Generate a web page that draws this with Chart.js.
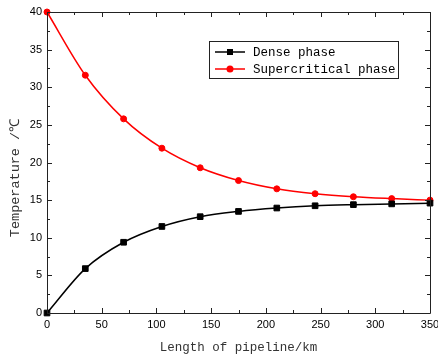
<!DOCTYPE html>
<html>
<head>
<meta charset="utf-8">
<script src="https://cdn.jsdelivr.net/npm/chart.js@4/dist/chart.umd.min.js"></script>
<style>
  html, body { margin: 0; padding: 0; background: #fff; }
  #wrap { width: 438px; height: 360px; position: relative; }
</style>
</head>
<body>
<div id="wrap"><canvas id="c" width="438" height="360"></canvas></div>
<script>
// Pipeline length (km) at each sampling station
const lengthKm = [0, 35, 70, 105, 140, 175, 210, 245, 280, 315, 350];
// Temperature (°C) along the pipeline for each transport phase
const densePhase = [0, 5.9, 9.4, 11.5, 12.8, 13.5, 13.95, 14.25, 14.4, 14.5, 14.6];
const supercriticalPhase = [40, 31.6, 25.8, 21.9, 19.3, 17.6, 16.5, 15.85, 15.45, 15.2, 15.0];
const seriesNames = ['Dense phase', 'Supercritical phase'];
const xTicks = [0, 50, 100, 150, 200, 250, 300, 350];
const yTicks = [0, 5, 10, 15, 20, 25, 30, 35, 40];
const yTitle = 'Temperature /℃';

const serif = '"Liberation Mono", "DejaVu Sans Mono", monospace';
const sans = '"Liberation Sans", Arial, sans-serif';

// Box frame with inward major/minor ticks on all four sides
const framePlugin = {
  id: 'frame',
  afterDatasetsDraw(chart) {
    const { ctx, chartArea: a, scales: { x, y } } = chart;
    ctx.save();
    ctx.strokeStyle = '#222';
    ctx.lineWidth = 1;
    ctx.beginPath();
    ctx.rect(Math.round(a.left) + 0.5, Math.round(a.top) + 0.5,
             Math.round(a.right - a.left), Math.round(a.bottom - a.top));
    ctx.stroke();
    ctx.beginPath();
    for (let v = 0; v <= 350; v += 25) {
      const px = Math.round(x.getPixelForValue(v)) + 0.5;
      const len = v % 50 === 0 ? 5 : 3;
      ctx.moveTo(px, a.bottom); ctx.lineTo(px, a.bottom - len);
      ctx.moveTo(px, a.top); ctx.lineTo(px, a.top + len);
    }
    for (let v = 0; v <= 40; v += 2.5) {
      const py = Math.round(y.getPixelForValue(v)) + 0.5;
      const len = v % 5 === 0 ? 5 : 3;
      ctx.moveTo(a.left, py); ctx.lineTo(a.left + len, py);
      ctx.moveTo(a.right, py); ctx.lineTo(a.right - len, py);
    }
    ctx.stroke();
    ctx.restore();
  }
};

// Rotated y-axis title beside the tick labels
const yTitlePlugin = {
  id: 'yTitle',
  afterDraw(chart) {
    const { ctx } = chart;
    ctx.save();
    ctx.translate(15, 178);
    ctx.rotate(-Math.PI / 2);
    ctx.fillStyle = '#333';
    ctx.font = '13.5px ' + serif;
    ctx.textAlign = 'center';
    ctx.textBaseline = 'middle';
    ctx.fillText(yTitle, 0, 0);
    ctx.restore();
  }
};

// Boxed legend inside the plot area
const boxLegendPlugin = {
  id: 'boxLegend',
  afterDraw(chart) {
    const { ctx } = chart;
    const bx = 209, by = 41, bw = 189, bh = 37;
    ctx.save();
    ctx.fillStyle = '#fff';
    ctx.fillRect(bx, by, bw, bh);
    ctx.strokeStyle = '#222';
    ctx.lineWidth = 1;
    ctx.strokeRect(bx + 0.5, by + 0.5, bw, bh);
    chart.data.datasets.forEach((ds, i) => {
      const cy = by + 11 + i * 17;
      ctx.strokeStyle = ds.borderColor;
      ctx.lineWidth = 1.5;
      ctx.beginPath();
      ctx.moveTo(215, cy); ctx.lineTo(245, cy);
      ctx.stroke();
      ctx.fillStyle = ds.borderColor;
      if (ds.pointStyle === 'rect') {
        ctx.fillRect(227, cy - 3, 6, 6);
      } else {
        ctx.beginPath();
        ctx.arc(230, cy, 3.5, 0, Math.PI * 2);
        ctx.fill();
      }
      ctx.fillStyle = '#000';
      ctx.font = '12.5px ' + serif;
      ctx.textBaseline = 'middle';
      ctx.textAlign = 'left';
      ctx.fillText(ds.label, 253, cy + 1);
    });
    ctx.restore();
  }
};

new Chart(document.getElementById('c'), {
  type: 'line',
  data: {
    labels: lengthKm,
    datasets: [
      {
        label: seriesNames[0],
        data: lengthKm.map((v, i) => ({ x: v, y: densePhase[i] })),
        borderColor: '#000',
        backgroundColor: '#000',
        borderWidth: 1.5,
        pointStyle: 'rect',
        pointRadius: 4,
        pointBorderWidth: 1,
        cubicInterpolationMode: 'monotone',
        clip: false
      },
      {
        label: seriesNames[1],
        data: lengthKm.map((v, i) => ({ x: v, y: supercriticalPhase[i] })),
        borderColor: '#ff0000',
        backgroundColor: '#ff0000',
        borderWidth: 1.5,
        pointStyle: 'circle',
        pointRadius: 3,
        pointBorderWidth: 1,
        cubicInterpolationMode: 'monotone',
        clip: false
      }
    ]
  },
  options: {
    responsive: false,
    animation: false,
    layout: { padding: { left: 0, top: 12, right: 8, bottom: 0 } },
    plugins: { legend: { display: false }, tooltip: { enabled: false } },
    scales: {
      x: {
        type: 'linear',
        min: 0, max: 350,
        afterBuildTicks: s => { s.ticks = xTicks.map(v => ({ value: v })); },
        afterFit: s => { s.height = 47; s.paddingLeft = 0; s.paddingRight = 0; },
        grid: { display: false, drawTicks: false },
        border: { display: false },
        ticks: { color: '#000', font: { family: sans, size: 11 }, padding: 5, maxRotation: 0 },
        title: {
          display: true,
          text: 'Length of pipeline/km',
          color: '#333',
          font: { family: serif, size: 12.5 },
          padding: { top: 4.5, bottom: 4.5 }
        }
      },
      y: {
        min: 0, max: 40,
        afterBuildTicks: s => { s.ticks = yTicks.map(v => ({ value: v })); },
        afterFit: s => { s.width = 47; s.paddingTop = 0; s.paddingBottom = 0; },
        grid: { display: false, drawTicks: false },
        border: { display: false },
        ticks: { color: '#000', font: { family: sans, size: 11 }, padding: 5 }
      }
    }
  },
  plugins: [framePlugin, yTitlePlugin, boxLegendPlugin]
});
</script>
</body>
</html>
